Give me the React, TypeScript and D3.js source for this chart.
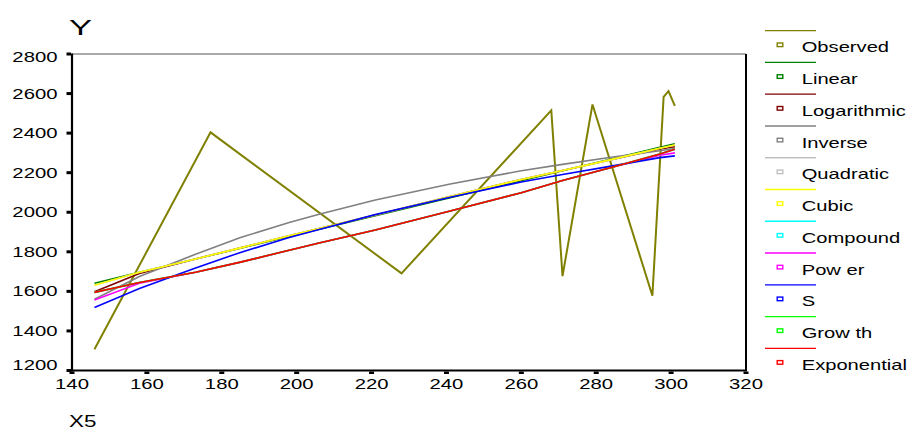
import React from "react";
import * as d3 from "d3";

// ---- data ----
const xTicks = [140, 160, 180, 200, 220, 240, 260, 280, 300, 320];
const yTicks = [1200, 1400, 1600, 1800, 2000, 2200, 2400, 2600, 2800];

const obsX = [146, 177, 228, 268, 271, 279, 295, 298, 299.3, 301];
const obsY = [1307, 2404, 1691, 2515, 1677, 2545, 1578, 2583, 2612, 2538];

const fitX = [146, 158, 173, 185, 198, 206, 221, 241, 260, 271, 284, 297, 301];
const linearY = [1641, 1696, 1764, 1818, 1877, 1914, 1982, 2073, 2160, 2210, 2269, 2328, 2346];
const logY = [1598, 1690, 1764, 1820, 1881, 1918, 1986, 2080, 2166, 2211, 2265, 2320, 2331];
const inverseY = [1560, 1675, 1788, 1872, 1948, 1990, 2062, 2143, 2210, 2242, 2278, 2311, 2322];
const quadraticY = [1631, 1697, 1764, 1820, 1881, 1918, 1986, 2080, 2166, 2211, 2266, 2324, 2340];
const cubicY = [1631, 1697, 1764, 1820, 1881, 1918, 1986, 2080, 2166, 2211, 2266, 2324, 2340];
const compoundY = [1595, 1645, 1697, 1748, 1808, 1845, 1910, 2006, 2099, 2160, 2226, 2294, 2318];
const powerY = [1556, 1641, 1697, 1748, 1808, 1845, 1910, 2006, 2099, 2160, 2226, 2288, 2300];
const sY = [1519, 1614, 1718, 1797, 1872, 1913, 1988, 2076, 2153, 2191, 2233, 2276, 2285];
const growthY = [1595, 1645, 1697, 1748, 1808, 1845, 1910, 2006, 2099, 2160, 2226, 2294, 2318];
const exponentialY = [1595, 1645, 1697, 1748, 1808, 1845, 1910, 2006, 2099, 2160, 2226, 2294, 2318];

const seriesNames = ["Observed", "Linear", "Logarithmic", "Inverse", "Quadratic", "Cubic", "Compound", "Pow er", "S", "Grow th", "Exponential"];
const seriesColors = ["#808000", "#008000", "#800000", "#808080", "#c0c0c0", "#ffff00", "#00ffff", "#ff00ff", "#0000ff", "#00ff00", "#ff0000"];
const fitSeries = [linearY, logY, inverseY, quadraticY, cubicY, compoundY, powerY, sY, growthY, exponentialY];

const FONT = "'Liberation Sans', Arial, sans-serif";

export default function App() {
  const x = d3.scaleLinear().domain([140, 320]).range([72, 746]);
  const y = d3.scaleLinear().domain([1200, 2800]).range([370.5, 54]);
  const line = d3
    .line<[number, number]>()
    .x((d) => x(d[0]))
    .y((d) => y(d[1]));

  const obsPath = line(obsX.map((v, i) => [v, obsY[i]] as [number, number])) || "";

  const legendTop = 30.7;
  const legendStep = 31.76;

  return (
    <svg
      width={911}
      height={430}
      style={{ position: "absolute", left: 0, top: 0, background: "#fff" }}
    >
      {/* frame */}
      <line x1={72} x2={746} y1={54} y2={54} stroke="#555" strokeWidth={1} />
      <line x1={746} x2={746} y1={54} y2={371} stroke="#000" strokeWidth={2} />
      <line x1={72} x2={72} y1={53.5} y2={371.5} stroke="#000" strokeWidth={2.2} />
      <line x1={71} x2={747} y1={370.5} y2={370.5} stroke="#000" strokeWidth={2.2} />

      {/* y ticks */}
      {yTicks.map((t) => {
        const ty = y(t);
        const by = Math.min(Math.max(ty + 5, 61.7), 370);
        return (
          <g key={"y" + t}>
            <rect x={66.5} y={ty - 1.5} width={4.5} height={3} fill="#000" />
            <text
              transform={`translate(57.5,${by}) scale(1.45,1)`}
              textAnchor="end"
              fontFamily={FONT}
              fontSize={14}
              fill="#000"
            >
              {t}
            </text>
          </g>
        );
      })}

      {/* x ticks */}
      {xTicks.map((t) => {
        const tx = x(t);
        return (
          <g key={"x" + t}>
            <rect x={tx - 2.5} y={371.5} width={5} height={2.5} fill="#000" />
            <text
              transform={`translate(${tx},389) scale(1.45,1)`}
              textAnchor="middle"
              fontFamily={FONT}
              fontSize={14}
              fill="#000"
            >
              {t}
            </text>
          </g>
        );
      })}

      {/* axis titles */}
      <text transform="translate(69,35) scale(1.5,1)" fontFamily={FONT} fontSize={23} fill="#000">
        Y
      </text>
      <text transform="translate(69,427) scale(1.4,1)" fontFamily={FONT} fontSize={16} fill="#000">
        X5
      </text>

      {/* observed */}
      <path d={obsPath} fill="none" stroke={seriesColors[0]} strokeWidth={2} strokeLinejoin="miter" />

      {/* fitted curves */}
      {fitSeries.map((ys, i) => (
        <path
          key={"f" + i}
          d={line(fitX.map((v, j) => [v, ys[j]] as [number, number])) || ""}
          fill="none"
          stroke={seriesColors[i + 1]}
          strokeWidth={1.6}
        />
      ))}

      {/* legend */}
      {seriesNames.map((name, i) => {
        const ly = legendTop + i * legendStep;
        return (
          <g key={"l" + i}>
            <line x1={765} x2={816} y1={ly} y2={ly} stroke={seriesColors[i]} strokeWidth={1.3} />
            <rect
              x={777.2}
              y={ly + 12.3}
              width={5.6}
              height={3.6}
              fill="#fff"
              stroke={seriesColors[i]}
              strokeWidth={1.4}
            />
            <text
              transform={`translate(801.7,${ly + 21.6}) scale(1.44,1)`}
              fontFamily={FONT}
              fontSize={14}
              fill="#000"
            >
              {name}
            </text>
          </g>
        );
      })}
    </svg>
  );
}
